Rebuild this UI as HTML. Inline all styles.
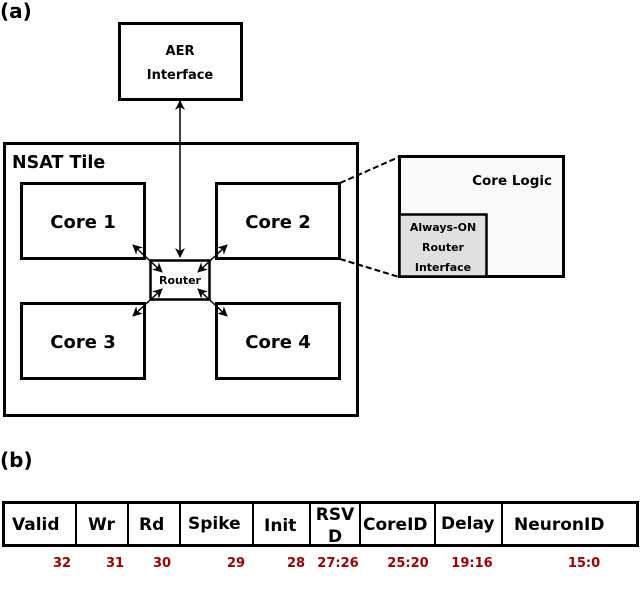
<!DOCTYPE html>
<html><head><style>body{margin:0;background:#fff}svg{display:block}text{font-family:"DejaVu Sans","Liberation Sans",sans-serif;font-weight:bold}</style></head>
<body>
<svg width="640" height="590" viewBox="0 0 640 590" xmlns="http://www.w3.org/2000/svg">
<defs>
<marker id="a" viewBox="0 0 10 10" refX="9" refY="5" markerWidth="12" markerHeight="10" orient="auto-start-reverse" markerUnits="userSpaceOnUse"><path d="M0,0 L10,5 L0,10 L3,5z" fill="#000"/></marker>
</defs>
<text x="0" y="18" font-size="20">(a)</text>
<rect x="119.5" y="23.5" width="122" height="76" fill="#fff" stroke="#000" stroke-width="3"/>
<text x="180" y="55" font-size="13" text-anchor="middle">AER</text>
<text x="180" y="79" font-size="13" text-anchor="middle">Interface</text>
<rect x="4.5" y="143.5" width="353" height="272" fill="#fff" stroke="#000" stroke-width="3"/>
<text x="12" y="168" font-size="17.5">NSAT Tile</text>
<rect x="21.5" y="183.5" width="123" height="75" fill="#fff" stroke="#000" stroke-width="3"/>
<rect x="216.5" y="183.5" width="123" height="75" fill="#fff" stroke="#000" stroke-width="3"/>
<rect x="21.5" y="303.5" width="123" height="75" fill="#fff" stroke="#000" stroke-width="3"/>
<rect x="216.5" y="303.5" width="123" height="75" fill="#fff" stroke="#000" stroke-width="3"/>
<text x="83" y="228" font-size="18" text-anchor="middle">Core 1</text>
<text x="278" y="228" font-size="18" text-anchor="middle">Core 2</text>
<text x="83" y="348" font-size="18" text-anchor="middle">Core 3</text>
<text x="278" y="348" font-size="18" text-anchor="middle">Core 4</text>
<rect x="150.5" y="260.5" width="59" height="39" fill="#fdfdfd" stroke="#000" stroke-width="2.5"/>
<text x="180" y="284" font-size="11" text-anchor="middle">Router</text>
<g stroke="#000" stroke-width="1.5" marker-start="url(#a)" marker-end="url(#a)">
<line x1="180" y1="101" x2="180" y2="257"/>
<line x1="133" y1="245" x2="162" y2="272"/>
<line x1="227" y1="245" x2="198" y2="272"/>
<line x1="133" y1="316" x2="162" y2="289"/>
<line x1="227" y1="316" x2="198" y2="289"/>
</g>
<line x1="340" y1="183" x2="399" y2="157" stroke="#000" stroke-width="2" stroke-dasharray="6,3"/>
<line x1="340" y1="259" x2="399" y2="277" stroke="#000" stroke-width="2" stroke-dasharray="6,3"/>
<rect x="399.5" y="156.5" width="164" height="120" fill="#fafafa" stroke="#000" stroke-width="3"/>
<text x="552" y="185" font-size="13.5" text-anchor="end">Core Logic</text>
<rect x="399.5" y="214.5" width="87" height="62" fill="#e0e0e0" stroke="#000" stroke-width="2.5"/>
<text x="443" y="231" font-size="11" text-anchor="middle">Always-ON</text>
<text x="443" y="251" font-size="11" text-anchor="middle">Router</text>
<text x="443" y="271" font-size="11" text-anchor="middle">Interface</text>
<text x="0" y="467" font-size="20">(b)</text>
<rect x="3.5" y="502.5" width="634" height="43" fill="#fff" stroke="#000" stroke-width="3"/>
<g stroke="#000" stroke-width="2">
<line x1="76" y1="502" x2="76" y2="546"/><line x1="128" y1="502" x2="128" y2="546"/>
<line x1="180" y1="502" x2="180" y2="546"/><line x1="253" y1="502" x2="253" y2="546"/>
<line x1="310" y1="502" x2="310" y2="546"/><line x1="360" y1="502" x2="360" y2="546"/>
<line x1="435" y1="502" x2="435" y2="546"/><line x1="502" y1="502" x2="502" y2="546"/>
</g>
<g font-size="17">
<text x="12" y="530">Valid</text>
<text x="88" y="530">Wr</text>
<text x="139" y="530">Rd</text>
<text x="188" y="529">Spike</text>
<text x="264" y="531">Init</text>
<text x="335" y="520" text-anchor="middle">RSV</text>
<text x="335" y="542" text-anchor="middle">D</text>
<text x="363" y="530">CoreID</text>
<text x="441" y="529">Delay</text>
<text x="514" y="530">NeuronID</text>
</g>
<g font-size="13" fill="#a00000" text-anchor="middle">
<text x="62" y="567">32</text><text x="115" y="567">31</text><text x="162" y="567">30</text>
<text x="236" y="567">29</text><text x="296" y="567">28</text><text x="338" y="567">27:26</text>
<text x="408" y="567">25:20</text><text x="472" y="567">19:16</text><text x="584" y="567">15:0</text>
</g>
</svg>
</body></html>
